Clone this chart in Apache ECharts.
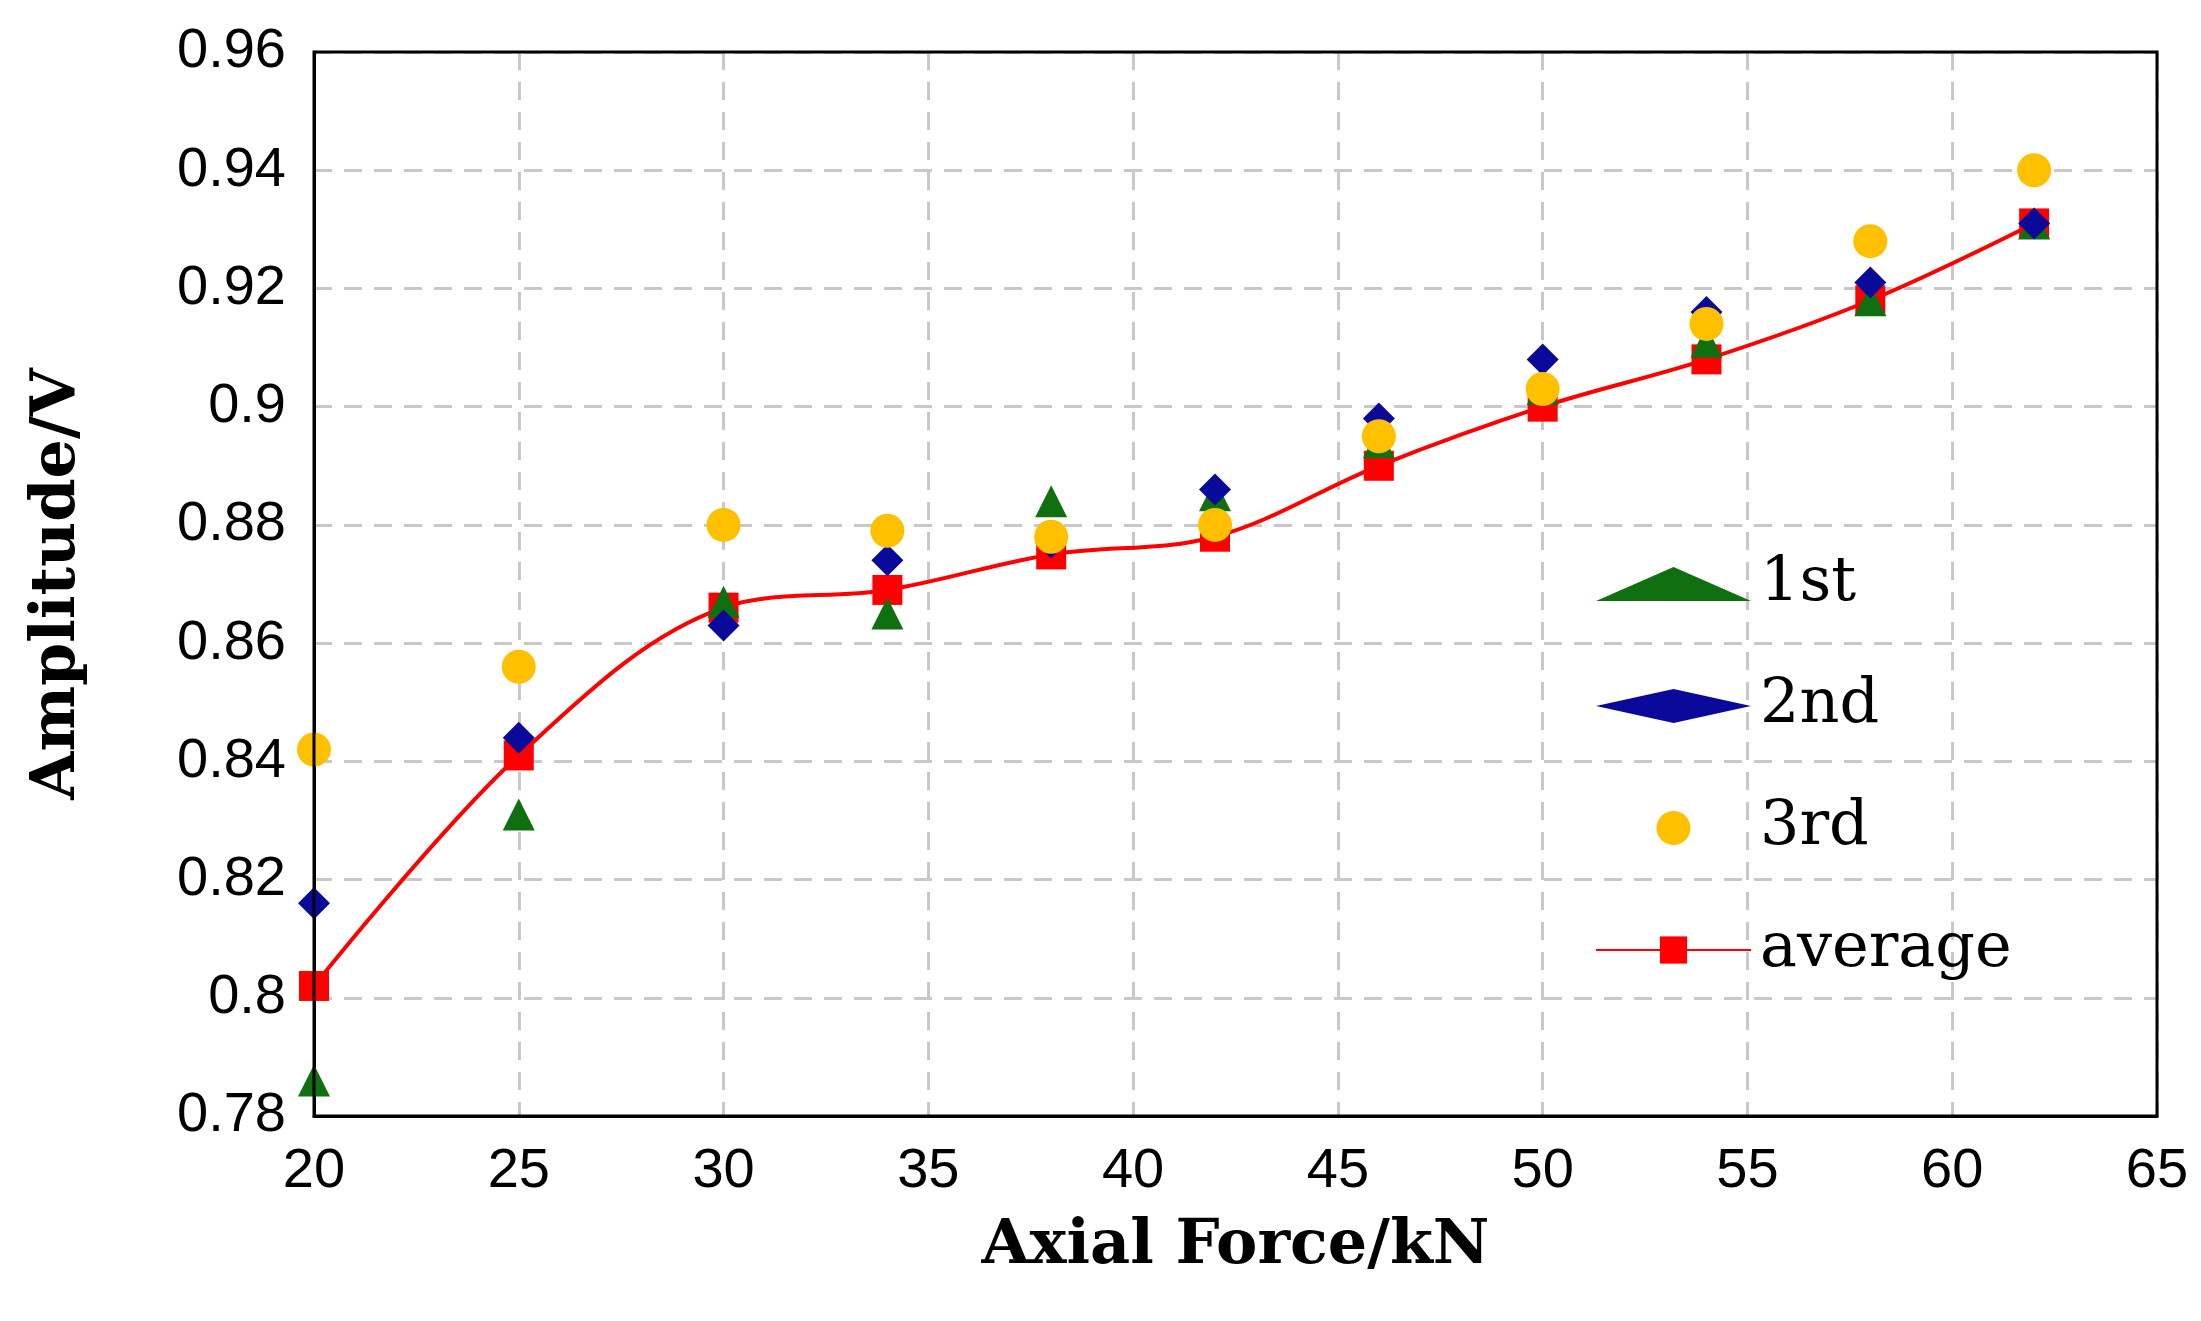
<!DOCTYPE html>
<html><head><meta charset="utf-8">
<script src="https://cdn.jsdelivr.net/npm/echarts@6/dist/echarts.min.js"></script>
<style>html,body{margin:0;background:#fff}#c{width:2201px;height:1321px}</style>
</head><body><div id="c"></div>
<script>
const force = [20,25,30,34,38,42,46,50,54,58,62];
const first = [0.786,0.831,0.867,0.865,0.884,0.885,0.894,0.903,0.911,0.918,0.931];
const second = [0.816,0.844,0.863,0.874,0.877,0.886,0.898,0.908,0.916,0.921,0.931];
const third = [0.842,0.856,0.880,0.879,0.878,0.880,0.895,0.903,0.914,0.928,0.940];
const average = [0.802,0.841,0.866,0.869,0.875,0.878,0.890,0.900,0.908,0.918,0.931];
const pair = a => force.map((x,i)=>[x,a[i]]);
const chart = echarts.init(document.getElementById('c'));
const axisFont = {fontFamily:'Liberation Sans, Arial',fontSize:56,color:'#000'};
const titleFont = {fontFamily:'DejaVu Serif',fontWeight:'bold',fontSize:62,color:'#000'};
chart.setOption({
  animation:false,
  grid:{left:314,right:44,top:52,bottom:205},
  xAxis:{type:'value',min:20,max:65,interval:5,name:'Axial Force/kN',nameLocation:'middle',nameGap:100,nameTextStyle:titleFont,
    axisLine:{lineStyle:{color:'#000',width:3}},axisTick:{show:false},axisLabel:Object.assign({margin:28},axisFont),
    splitLine:{lineStyle:{type:[18,12],color:'#c8c8c8',width:3}}},
  yAxis:{type:'value',min:0.78,max:0.96,interval:0.02,name:'Amplitude/V',nameLocation:'middle',nameGap:225,nameTextStyle:titleFont,
    axisLine:{show:true,lineStyle:{color:'#000',width:3}},axisTick:{show:false},
    axisLabel:Object.assign({margin:28,formatter:v=>String(parseFloat(v.toFixed(2)))},axisFont),
    splitLine:{lineStyle:{type:[18,12],color:'#c8c8c8',width:3}}},
  graphic:[{type:'rect',shape:{x:314,y:52,width:1843,height:1064},style:{fill:'none',stroke:'#000',lineWidth:3},silent:true,z:100}],
  legend:{orient:'vertical',left:1590,top:548,itemGap:60,itemWidth:155,itemHeight:34,symbolKeepAspect:true,
    textStyle:{fontFamily:'DejaVu Serif',fontSize:62,color:'#000',padding:[0,0,0,4]},
    data:['1st','2nd','3rd','average']},
  series:[
    {name:'average',type:'line',data:pair(average),smooth:0.35,symbol:'rect',symbolSize:30,symbolKeepAspect:true,
     itemStyle:{color:'#ff0000',opacity:1},lineStyle:{color:'#ff0000',width:4},z:2},
    {name:'1st',type:'scatter',data:pair(first),symbol:'triangle',symbolSize:32,symbolKeepAspect:true,itemStyle:{color:'#107010',opacity:1},z:3},
    {name:'2nd',type:'scatter',data:pair(second),symbol:'diamond',symbolSize:32,symbolKeepAspect:true,itemStyle:{color:'#0a0a9a',opacity:1},z:4},
    {name:'3rd',type:'scatter',data:pair(third),symbol:'circle',symbolSize:34,symbolKeepAspect:true,itemStyle:{color:'#ffc000',opacity:1},z:5}
  ]
});
</script></body></html>
